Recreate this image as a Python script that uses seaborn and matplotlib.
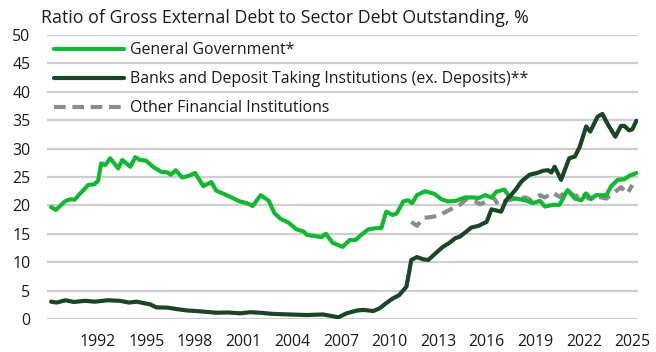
import matplotlib
matplotlib.use("Agg")
import matplotlib.pyplot as plt
import seaborn as sns
import pandas as pd

# ---- data ----
gov_years = [1989.1, 1989.4, 1989.95, 1990.3, 1990.55, 1991.0, 1991.4, 1991.75, 1992.0, 1992.2,
             1992.45, 1992.75, 1993.25, 1993.5, 1994.0, 1994.3, 1994.6, 1994.95, 1995.4, 1995.9,
             1996.3, 1996.5, 1996.8, 1997.2, 1997.6, 1998.0, 1998.5, 1999.0, 1999.3, 1999.7,
             2000.25, 2000.75, 2001.2, 2001.55, 2002.05, 2002.55, 2002.9, 2003.3, 2003.75, 2004.25,
             2004.7, 2004.9, 2005.4, 2005.8, 2006.07, 2006.5, 2007.1, 2007.55, 2007.9, 2008.3,
             2008.7, 2009.2, 2009.5, 2009.8, 2010.2, 2010.45, 2010.85, 2011.15, 2011.4, 2011.7,
             2012.2, 2012.8, 2013.2, 2013.6, 2014.1, 2014.65, 2015.2, 2015.5, 2015.9, 2016.3,
             2016.6, 2017.1, 2017.4, 2017.8, 2018.4, 2018.85, 2019.3, 2019.6, 2020.1, 2020.5,
             2021.0, 2021.45, 2021.85, 2022.15, 2022.45, 2022.75, 2023.4, 2023.7, 2024.1, 2024.5,
             2024.8, 2025.25]
gov_values = [19.7, 19.2, 20.7, 21.1, 21.0, 22.4, 23.6, 23.7, 24.3, 27.4,
              27.1, 28.3, 26.5, 28.0, 26.8, 28.5, 28.0, 27.9, 26.8, 25.9,
              25.8, 25.4, 26.2, 24.9, 25.2, 25.7, 23.4, 24.1, 22.6, 22.1,
              21.4, 20.7, 20.4, 19.9, 21.8, 20.8, 18.6, 17.6, 17.0, 15.8,
              15.4, 14.8, 14.6, 14.4, 15.0, 13.4, 12.7, 13.9, 13.9, 14.9,
              15.8, 16.0, 16.0, 18.9, 18.3, 18.6, 20.7, 20.9, 20.4, 21.8,
              22.5, 22.0, 21.1, 20.7, 20.8, 21.4, 21.4, 21.3, 21.8, 21.4,
              22.4, 22.8, 21.5, 21.2, 20.9, 20.4, 20.8, 19.8, 20.1, 20.1,
              22.7, 21.2, 20.9, 22.1, 21.1, 21.8, 21.8, 23.4, 24.5, 24.6,
              25.2, 25.7]

bank_years = [1989.1, 1989.45, 1990.0, 1990.5, 1991.2, 1991.8, 1992.6, 1993.35, 1993.9, 1994.4,
              1994.9, 1995.2, 1995.6, 1996.3, 1996.85, 1997.5, 1998.1, 1998.5, 1999.3, 2000.0,
              2000.8, 2001.4, 2002.0, 2002.8, 2003.8, 2004.9, 2005.9, 2006.85, 2007.35, 2008.0,
              2008.4, 2009.0, 2009.4, 2009.8, 2010.2, 2010.6, 2011.05, 2011.35, 2011.7, 2012.1,
              2012.4, 2012.9, 2013.3, 2013.7, 2014.05, 2014.35, 2014.75, 2015.05, 2015.5, 2016.0,
              2016.3, 2016.6, 2016.9, 2017.2, 2017.5, 2017.8, 2018.15, 2018.65, 2019.1, 2019.5,
              2019.8, 2020.0, 2020.2, 2020.6, 2021.1, 2021.45, 2021.75, 2022.15, 2022.4, 2022.85,
              2023.15, 2023.5, 2023.95, 2024.3, 2024.5, 2024.8, 2025.0, 2025.25]
bank_values = [3.05, 2.9, 3.3, 3.0, 3.2, 3.05, 3.3, 3.2, 2.9, 3.05,
               2.75, 2.6, 2.05, 2.0, 1.75, 1.5, 1.4, 1.3, 1.1, 1.15,
               1.0, 1.2, 1.1, 0.9, 0.8, 0.7, 0.8, 0.3, 1.0, 1.5,
               1.6, 1.4, 1.9, 2.8, 3.6, 4.2, 5.7, 10.4, 10.9, 10.5,
               10.4, 11.7, 12.7, 13.4, 14.2, 14.5, 15.4, 16.1, 16.4, 17.1,
               19.3, 19.1, 18.9, 20.9, 21.8, 22.8, 24.2, 25.4, 25.7, 26.1,
               26.2, 25.8, 26.8, 24.5, 28.3, 28.6, 30.3, 33.9, 33.0, 35.6,
               36.1, 34.2, 32.1, 34.0, 34.0, 33.2, 33.4, 34.9]

ofi_years = [2011.35, 2011.7, 2012.1, 2012.7, 2013.1, 2013.7, 2014.35, 2014.75, 2015.3, 2015.6,
             2016.0, 2016.4, 2016.7, 2017.3, 2017.8, 2018.4, 2018.8, 2019.3, 2019.6, 2020.1,
             2020.5, 2021.0, 2021.5, 2021.9, 2022.3, 2022.9, 2023.4, 2023.8, 2024.3, 2024.7,
             2025.0]
ofi_values = [17.1, 16.4, 17.8, 18.0, 18.3, 19.2, 20.1, 21.1, 20.7, 20.2,
              20.7, 21.5, 20.2, 20.9, 21.2, 21.4, 20.9, 21.8, 21.4, 22.2,
              21.5, 22.6, 21.5, 22.4, 21.2, 21.5, 21.2, 22.1, 23.2, 22.1,
              23.6]

series_names = ["General Government*",
                "Banks and Deposit Taking Institutions (ex. Deposits)**",
                "Other Financial Institutions"]
title_text = "Ratio of Gross External Debt to Sector Debt Outstanding, %"
x_ticks = [1992, 1995, 1998, 2001, 2004, 2007, 2010, 2013, 2016, 2019, 2022, 2025]
y_ticks = [0, 5, 10, 15, 20, 25, 30, 35, 40, 45, 50]

# ---- style ----
sns.set_theme(style="white")
plt.rcParams["font.family"] = ["Open Sans", "DejaVu Sans"]

GREEN = "#13B832"
DARK = "#1A4527"
GREY = "#8C8C8C"
GRID = "#CFCFCF"
TEXT = "#1A1A1A"

fig = plt.figure(figsize=(6.56, 3.52), dpi=100)
ax = fig.add_axes([47 / 656, 1 - 319 / 352, (638 - 47) / 656, (319 - 35) / 352])

df_gov = pd.DataFrame({"year": gov_years, "value": gov_values})
df_bank = pd.DataFrame({"year": bank_years, "value": bank_values})
df_ofi = pd.DataFrame({"year": ofi_years, "value": ofi_values})

for y in y_ticks:
    ax.axhline(y, color=GRID, lw=1.6, zorder=0)

sns.lineplot(data=df_gov, x="year", y="value", ax=ax, color=GREEN, lw=3.0,
             estimator=None, sort=False, label=series_names[0], zorder=3)
sns.lineplot(data=df_bank, x="year", y="value", ax=ax, color=DARK, lw=3.0,
             estimator=None, sort=False, label=series_names[1], zorder=4)
sns.lineplot(data=df_ofi, x="year", y="value", ax=ax, color=GREY, lw=3.0,
             estimator=None, sort=False, label=series_names[2], zorder=2)
ax.lines[-1].set_dashes((2.8, 1.6))

ax.set_xlim(1988.85, 2025.35)
ax.set_ylim(0, 50)
ax.set_xticks(x_ticks)
ax.set_xticklabels([str(t) for t in x_ticks])
ax.set_yticks(y_ticks)
ax.set_yticklabels([str(t) for t in y_ticks])
ax.tick_params(axis="both", length=0, labelsize=11.4, colors=TEXT)
ax.tick_params(axis="y", pad=12)
ax.tick_params(axis="x", pad=11)
ax.set_xlabel("")
ax.set_ylabel("")
for s in ax.spines.values():
    s.set_visible(False)

leg = ax.legend(loc="upper left", bbox_to_anchor=(0.0, 1.0), frameon=False,
                fontsize=11.4, handlelength=4.4, handletextpad=0.4,
                labelspacing=0.82, borderaxespad=0.2, borderpad=0.25)
for t in leg.get_texts():
    t.set_color(TEXT)

fig.text(41 / 656, 1 - 18 / 352, title_text, fontsize=12.8, color=TEXT,
         ha="left", va="center")

fig.savefig("out.png", dpi=100)
